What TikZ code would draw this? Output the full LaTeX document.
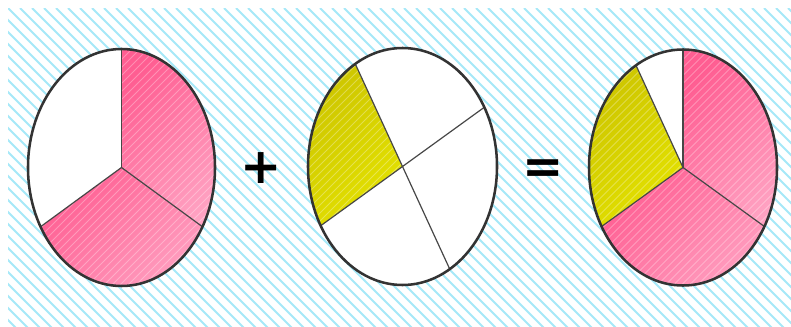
\documentclass[tikz,border=0pt]{standalone}
\usepackage{fontspec}
\newfontfamily\symfont{DejaVu Sans}
\definecolor{bgcyan}{HTML}{A6E8F8}
\definecolor{pinkA}{HTML}{FF5E92}
\definecolor{pinkB}{HTML}{FFA2C2}
\definecolor{yelA}{HTML}{CCC400}
\definecolor{yelB}{HTML}{E4E200}
\definecolor{outl}{HTML}{333333}
\tikzset{
  bgline/.style={draw=bgcyan, line width=1.4pt},
  rim/.style={draw=outl, line width=1.9pt},
  divider/.style={draw=outl!90, line width=0.9pt},
  pinkfill/.style={left color=pinkA, right color=pinkB, shading angle=45},
  yelfill/.style={left color=yelA, right color=yelB, shading angle=45},
  gloss/.style={draw=white, draw opacity=0.3, line width=0.7pt},
  sym/.style={inner sep=0pt, font=\symfont\fontsize{37}{37}\selectfont\bfseries, text=black}
}
\newcommand{\sector}[7]{% cx cy rx ry a b style
  \path[#7] (#1,#2) -- ++({#3*cos(#5)},{#4*sin(#5)}) arc[start angle=#5, end angle=#6, x radius=#3, y radius=#4] -- cycle;
  \begin{scope}
    \clip (#1,#2) -- ++({#3*cos(#5)},{#4*sin(#5)}) arc[start angle=#5, end angle=#6, x radius=#3, y radius=#4] -- cycle;
    \foreach \k in {-260,-252,...,260} \draw[gloss] ({#1+\k-130},{#2-130}) -- ++(260,260);
  \end{scope}
}
\begin{document}
\begin{tikzpicture}[x=0.75pt,y=0.75pt]
\useasboundingbox (0,0) rectangle (791,326);
\fill[white] (0,0) rectangle (791,326);
\begin{scope}
  \clip (8,0) rectangle (791,318);
  \foreach \i in {-340,-328,...,800} \draw[bgline] (\i,318) -- ++(330,-330);
\end{scope}
% ellipse 1
\fill[white] (121.5,158.5) ellipse[x radius=93.5, y radius=118.5];
\sector{121.5}{158.5}{93.5}{118.5}{-30}{90}{pinkfill}
\sector{121.5}{158.5}{93.5}{118.5}{210}{330}{pinkfill}
\coordinate (c1) at (121.5,158.5);
\draw[divider] (c1) -- ++({93.5*cos(90)},{118.5*sin(90)});
\draw[divider] (c1) -- ++({93.5*cos(210)},{118.5*sin(210)});
\draw[divider] (c1) -- ++({93.5*cos(330)},{118.5*sin(330)});
\draw[rim] (c1) ellipse[x radius=93.5, y radius=118.5];
% plus
\node[sym] (plus) at (261.5,158) {+};
% ellipse 2
\fill[white] (402.5,159.5) ellipse[x radius=94.5, y radius=118.5];
\sector{402.5}{159.5}{94.5}{118.5}{120}{210}{yelfill}
\coordinate (c2) at (402.5,159.5);
\draw[divider] (c2) -- ++({94.5*cos(30)},{118.5*sin(30)});
\draw[divider] (c2) -- ++({94.5*cos(120)},{118.5*sin(120)});
\draw[divider] (c2) -- ++({94.5*cos(210)},{118.5*sin(210)});
\draw[divider] (c2) -- ++({94.5*cos(300)},{118.5*sin(300)});
\draw[rim] (c2) ellipse[x radius=94.5, y radius=118.5];
% equals
\node[sym] (eq) at (543,154) {=};
% ellipse 3
\fill[white] (683,158.5) ellipse[x radius=94, y radius=118];
\sector{683}{158.5}{94}{118}{-30}{90}{pinkfill}
\sector{683}{158.5}{94}{118}{210}{330}{pinkfill}
\sector{683}{158.5}{94}{118}{120}{210}{yelfill}
\coordinate (c3) at (683,158.5);
\draw[divider] (c3) -- ++({94*cos(90)},{118*sin(90)});
\draw[divider] (c3) -- ++({94*cos(120)},{118*sin(120)});
\draw[divider] (c3) -- ++({94*cos(210)},{118*sin(210)});
\draw[divider] (c3) -- ++({94*cos(330)},{118*sin(330)});
\draw[rim] (c3) ellipse[x radius=94, y radius=118];
\end{tikzpicture}
\end{document}
